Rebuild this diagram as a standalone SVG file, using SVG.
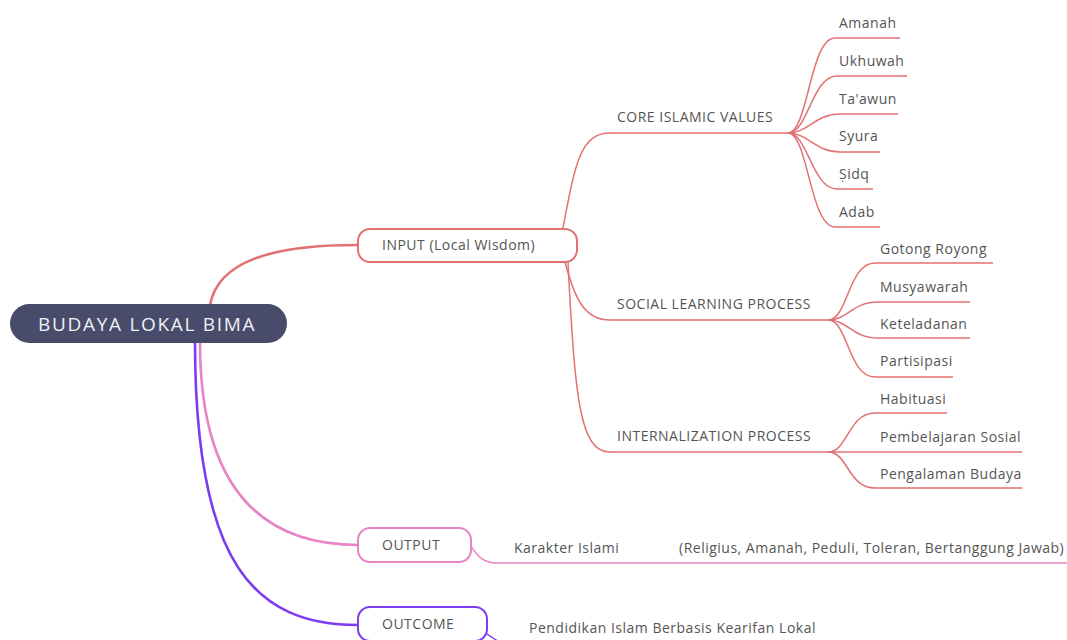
<svg xmlns="http://www.w3.org/2000/svg" width="1067" height="640" viewBox="0 0 1067 640">
<style>
.t{font-family:"Open Sans","Liberation Sans",sans-serif;font-size:14px;letter-spacing:0.5px;fill:#555}
.red{fill:none;stroke:#e27272;stroke-width:1.5}
.main{fill:none;stroke-width:2.6}
.node{fill:#fff;stroke-width:2}
</style>
<rect width="1067" height="640" fill="#fff"/>
<g id="connectors">
<path class="main" stroke="#e27272" d="M210,305 C218,262 270,245 357,245"/>
<path class="main" stroke="#e784c6" d="M200,342 C200,480 255,545 358,545"/>
<path class="main" stroke="#7d3cf0" d="M195,342 C195,565 255,625 358,625"/>
<path class="red" d="M563,228 C575,165 580,133 610,133 H788"/>
<path class="red" d="M565,262 C575,300 585,320 610,320 H828"/>
<path class="red" d="M568,262 C575,400 580,452 610,452 H828"/>
<path class="red" d="M788,133 C808,133 810,38 835,38 H900"/>
<path class="red" d="M788,133 C808,133 812,76 837,76 H907"/>
<path class="red" d="M788,133 C808,133 815,114 840,114 H898"/>
<path class="red" d="M788,133 C808,133 815,152 840,152 H880"/>
<path class="red" d="M788,133 C808,133 812,189 837,189 H873"/>
<path class="red" d="M788,133 C808,133 810,227 835,227 H880"/>
<path class="red" d="M828,320 C848,320 848,263 875,263 H993"/>
<path class="red" d="M828,320 C848,320 852,302 878,302 H970"/>
<path class="red" d="M828,320 C848,320 852,338 878,338 H970"/>
<path class="red" d="M828,320 C848,320 848,377 875,377 H953"/>
<path class="red" d="M828,452 C848,452 848,413 875,413 H947"/>
<path class="red" d="M828,452 H1022"/>
<path class="red" d="M828,452 C848,452 848,488 875,488 H1022"/>
<path fill="none" stroke="#e784c6" stroke-width="1.5" d="M470,545 C478,556 482,563 497,563 H1067"/>
<path fill="none" stroke="#7d3cf0" stroke-width="1.5" d="M484,632 C490,636 494,639 498,641"/>
</g>
<g id="root">
<rect x="10" y="304" width="277" height="39" rx="19.5" fill="#484b6a"/>
<text x="38" y="331" font-family="'Open Sans','Liberation Sans',sans-serif" font-size="19" letter-spacing="1.7" fill="#eef0f5">BUDAYA LOKAL BIMA</text>
</g>
<g id="input">
<rect class="node" x="358" y="229" width="219" height="33" rx="12" stroke="#e27272"/>
<text class="t" x="382" y="250">INPUT (Local Wisdom)</text>
</g>
<g id="core"><text class="t" x="617" y="122">CORE ISLAMIC VALUES</text></g>
<g id="social"><text class="t" x="617" y="309">SOCIAL LEARNING PROCESS</text></g>
<g id="internal"><text class="t" x="617" y="441">INTERNALIZATION PROCESS</text></g>
<g id="amanah"><text class="t" x="839" y="28">Amanah</text></g>
<g id="ukhuwah"><text class="t" x="839" y="66">Ukhuwah</text></g>
<g id="taawun"><text class="t" x="839" y="104">Ta'awun</text></g>
<g id="syura"><text class="t" x="839" y="141">Syura</text></g>
<g id="sidq"><text class="t" x="839" y="179">Ṣidq</text></g>
<g id="adab"><text class="t" x="839" y="217">Adab</text></g>
<g id="gotong"><text class="t" x="880" y="254">Gotong Royong</text></g>
<g id="musyawarah"><text class="t" x="880" y="292">Musyawarah</text></g>
<g id="keteladanan"><text class="t" x="880" y="329">Keteladanan</text></g>
<g id="partisipasi"><text class="t" x="880" y="366">Partisipasi</text></g>
<g id="habituasi"><text class="t" x="880" y="404">Habituasi</text></g>
<g id="pembelajaran"><text class="t" x="880" y="442">Pembelajaran Sosial</text></g>
<g id="pengalaman"><text class="t" x="880" y="479">Pengalaman Budaya</text></g>
<g id="output">
<rect class="node" x="358" y="528" width="113" height="34" rx="12" stroke="#e784c6"/>
<text class="t" x="382" y="550">OUTPUT</text>
</g>
<g id="karakter">
<text class="t" x="514" y="553">Karakter Islami</text>
<text class="t" x="679" y="553">(Religius, Amanah, Peduli, Toleran, Bertanggung Jawab)</text>
</g>
<g id="outcome">
<rect class="node" x="358" y="607" width="129" height="34" rx="12" stroke="#7d3cf0"/>
<text class="t" x="382" y="629">OUTCOME</text>
</g>
<g id="pendidikan"><text class="t" x="529" y="633">Pendidikan Islam Berbasis Kearifan Lokal</text></g>
</svg>
